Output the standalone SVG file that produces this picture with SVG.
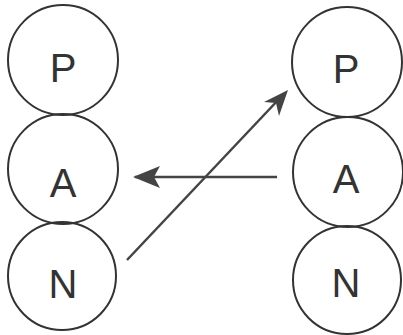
<svg xmlns="http://www.w3.org/2000/svg" width="403" height="335" viewBox="0 0 403 335">
<defs>
<style>
.c{fill:none;stroke:#333;stroke-width:2}
.t{font-family:"Liberation Sans",Arial,sans-serif;font-size:40px;fill:#333;text-anchor:middle}
.l{stroke:#444;stroke-width:2.5;fill:none}
</style>
<marker id="ah" viewBox="0 0 10 10" refX="10" refY="5" markerWidth="10" markerHeight="8" markerUnits="userSpaceOnUse" orient="auto">
<path d="M0,0 L10,5 L0,10 L2.5,5 Z" fill="#444"/>
</marker>
</defs>
<rect width="403" height="335" fill="#fff"/>
<g id="left-P"><circle class="c" cx="63" cy="60" r="55"/><text class="t" x="63" y="82">P</text></g>
<g id="left-A"><circle class="c" cx="63" cy="169" r="55"/><text class="t" x="63" y="197">A</text></g>
<g id="left-N"><circle class="c" cx="62" cy="276" r="54"/><text class="t" x="63" y="298">N</text></g>
<g id="right-P"><circle class="c" cx="347" cy="62" r="55"/><text class="t" x="346" y="83">P</text></g>
<g id="right-A"><circle class="c" cx="348" cy="172" r="55"/><text class="t" x="346" y="193">A</text></g>
<g id="right-N"><circle class="c" cx="347" cy="280" r="54"/><text class="t" x="346" y="297">N</text></g>
<g id="connectors">
<line x1="277" y1="177" x2="135" y2="177" stroke="#444" stroke-width="2.5"/>
<path d="M133,177 L160,166 L154,177 L160,188 Z" fill="#444"/>
<line x1="127" y1="260" x2="280" y2="98" stroke="#444" stroke-width="2.5"/>
<path d="M288,90 L279,116 L276,103 L264,102 Z" fill="#444"/>
</g>
</svg>
